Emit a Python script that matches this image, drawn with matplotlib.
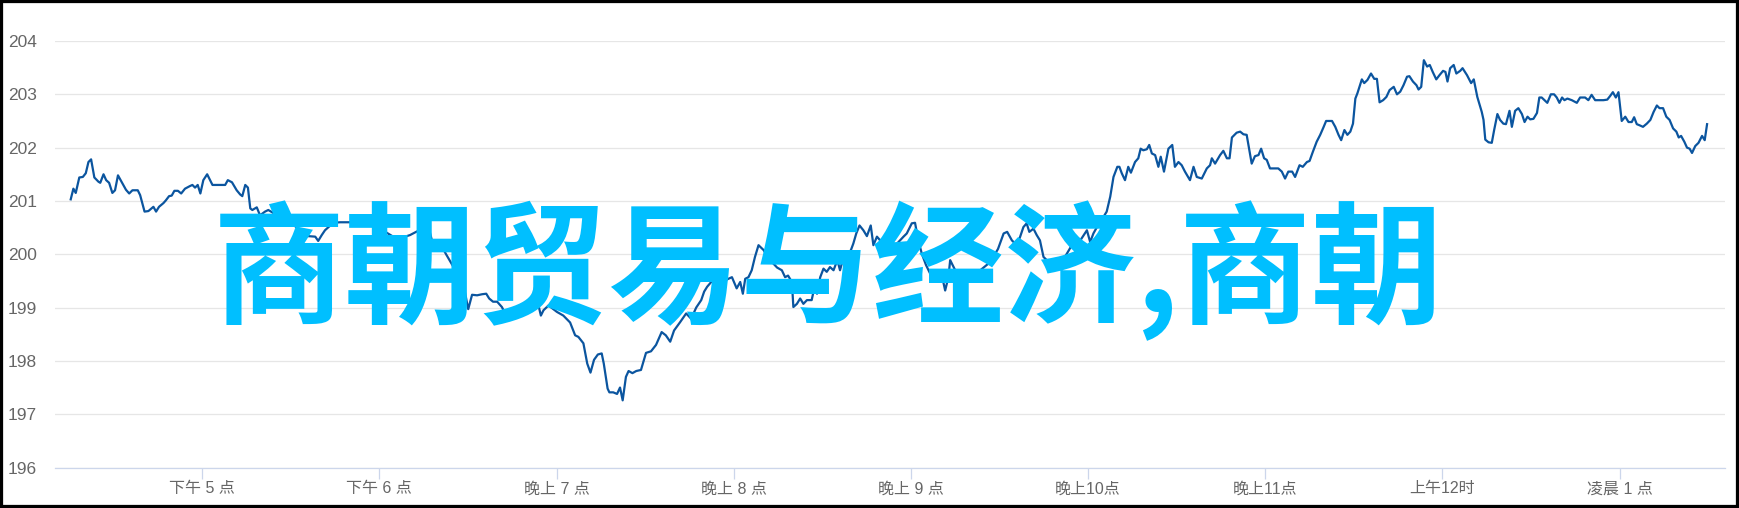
import matplotlib
matplotlib.use("Agg")
import matplotlib.pyplot as plt
from matplotlib.patches import Rectangle

# minutes after 16:00, price
minutes = [
    15.5, 16.4, 17.2, 18.4, 19.6, 20.6, 21.5, 22.4, 23.5, 24.9, 25.5, 26.6, 27.5, 28.5, 29.6,
    30.5, 31.5, 32.8, 34.2, 35.3, 36.4, 38.2, 39.0, 40.5, 41.8, 43.5, 44.4, 45.4, 46.9, 47.7,
    48.8, 49.7, 50.6, 51.8, 52.9, 54.2, 55.9, 56.7, 57.6, 58.5, 59.4, 60.4, 61.7, 63.5, 66.7,
    67.8, 68.7, 70.1, 71.7, 72.9, 73.6, 74.6, 75.5, 76.3, 77.0, 78.5, 79.6, 81.3, 82.4, 86.4,
    89.8, 93.2, 95.9, 98.3, 99.3, 100.5, 101.6, 104.4, 106.7, 110.1, 112.8, 115.2, 117.6, 120.3,
    122.6, 124.7, 126.4, 128.7, 130.4, 132.8, 134.8, 136.9, 137.8, 138.9, 139.9, 141.2, 142.6,
    144.7, 146.7, 148.4, 150.1, 151.4, 153.1, 154.8, 156.2, 157.2, 158.5, 159.9, 161.5, 162.6,
    164.3, 166.6, 168.8, 171.1, 172.4, 173.9, 174.7, 175.6, 177.3, 180.1, 182.3, 184.6, 186.3,
    187.4, 189.1, 190.4, 191.5, 192.7, 194.0, 195.3, 196.0, 197.3, 197.9, 199.2, 200.5, 201.5,
    202.4, 203.5, 204.4, 205.7, 207.0, 208.6, 210.3, 212.0, 213.7, 215.6, 217.0, 218.5, 219.8,
    221.9, 223.9, 225.6, 227.3, 229.0, 230.0, 231.0, 232.7, 234.7, 236.8, 238.2, 239.4, 241.0,
    242.2, 243.1, 243.9, 245.0, 246.1, 247.2, 248.4, 250.1, 251.2, 253.0, 254.7, 256.3, 257.4,
    258.4, 259.7, 260.2, 261.4, 262.5, 263.6, 264.8, 266.4, 267.6, 268.2, 269.3, 270.4, 271.5,
    272.6, 273.8, 275.1, 276.0, 277.2, 278.3, 279.7, 280.5, 281.5, 282.6, 283.9, 285.1, 286.4,
    287.3, 288.5, 289.6, 290.7, 292.3, 293.5, 295.3, 297.5, 298.6, 300.3, 301.4, 302.5, 303.7,
    305.1, 307.1, 309.3, 310.5, 311.6, 312.7, 313.3, 315.0, 316.1, 317.6, 320.1, 323.5, 326.8,
    329.5, 331.4, 332.6, 334.2, 335.9, 337.0, 338.1, 339.2, 340.1, 341.5, 342.6, 343.7, 344.9,
    346.0, 347.1, 348.3, 349.5, 351.1, 352.8, 354.5, 356.2, 357.6, 359.6, 360.7, 361.8, 363.0,
    364.1, 365.2, 366.3, 367.5, 368.6, 369.9, 370.6, 371.4, 372.5, 373.6, 374.5, 375.9, 377.0,
    377.8, 378.7, 379.9, 380.7, 381.6, 382.7, 383.8, 384.6, 385.7, 387.2, 388.5, 389.4, 390.6,
    391.7, 392.8, 394.5, 395.7, 396.8, 398.5, 400.2, 401.3, 401.9, 403.0, 404.7, 405.8, 407.0,
    407.9, 408.7, 410.3, 411.5, 412.6, 413.7, 415.4, 416.5, 417.7, 418.6, 419.6, 420.5, 421.6,
    423.3, 424.4, 425.6, 426.7, 427.8, 429.1, 430.1, 431.6, 432.7, 434.1, 435.0, 436.1, 437.4,
    438.6, 439.7, 440.6, 442.6, 443.7, 444.8, 445.7, 446.8, 447.8, 448.8, 449.7, 450.5, 451.2,
    452.7, 453.5, 454.6, 455.8, 456.9, 457.8, 458.7, 459.9, 461.0, 462.1, 463.5, 464.6, 465.7,
    466.8, 468.0, 468.8, 470.0, 471.2, 471.9, 472.8, 473.7, 474.8, 475.7, 476.7, 477.9, 479.0,
    480.2, 481.0, 481.7, 482.6, 483.8, 484.7, 486.0, 486.8, 488.3, 489.7, 490.6, 491.8, 493.3,
    493.9, 494.5, 495.6, 496.7, 497.5, 498.6, 499.5, 500.6, 501.5, 502.7, 503.5, 504.6, 505.7,
    506.9, 507.8, 508.8, 509.7, 510.8, 512.0, 512.8, 513.6, 515.5, 516.7, 517.8, 518.7, 519.6,
    520.5, 521.3, 522.3, 523.8, 525.5, 526.6, 528.3, 529.4, 530.5, 531.7, 534.5, 535.8, 536.8,
    537.7, 538.7, 539.6, 540.7, 541.9, 543.0, 544.1, 544.9, 545.8, 546.7, 547.9, 549.2, 550.4,
    551.5, 552.6, 553.5, 554.7, 555.8, 556.9, 558.1, 559.2, 560.0, 560.8, 561.9, 562.8, 563.7,
    564.5, 565.6, 566.7, 567.9, 568.8, 569.6,
]
prices = [
    201.03, 201.23, 201.15, 201.44, 201.45, 201.52, 201.73, 201.78, 201.44, 201.36, 201.34, 201.50, 201.39, 201.34, 201.15,
    201.20, 201.48, 201.35, 201.21, 201.14, 201.20, 201.20, 201.11, 200.80, 200.81, 200.89, 200.80, 200.89, 200.96, 201.01,
    201.09, 201.10, 201.19, 201.19, 201.14, 201.23, 201.28, 201.30, 201.25, 201.30, 201.14, 201.39, 201.50, 201.30, 201.30,
    201.30, 201.39, 201.35, 201.20, 201.12, 201.09, 201.30, 201.25, 200.86, 200.83, 200.88, 200.73, 200.80, 200.83, 200.70,
    200.60, 200.45, 200.34, 200.33, 200.25, 200.36, 200.45, 200.59, 200.60, 200.60, 200.61, 200.65, 200.58, 200.48,
    200.40, 200.33, 200.26, 200.33, 200.36, 200.43, 200.45, 200.46, 200.26, 200.20, 200.23, 200.14, 200.00,
    199.80, 199.62, 199.46, 198.97, 199.24, 199.23, 199.25, 199.26, 199.17, 199.11, 199.11, 199.01, 198.89,
    198.92, 198.95, 198.98, 199.07, 199.14, 199.04, 198.85, 198.95, 199.04, 198.92, 198.85, 198.72, 198.48,
    198.45, 198.33, 197.95, 197.78, 198.02, 198.12, 198.14, 197.95, 197.48, 197.41, 197.41, 197.38, 197.50,
    197.26, 197.70, 197.81, 197.77, 197.81, 197.83, 198.15, 198.18, 198.30, 198.54, 198.48, 198.36, 198.57,
    198.73, 198.89, 198.79, 199.00, 199.14, 199.30, 199.39, 199.50, 199.60, 199.50, 199.54, 199.57, 199.36,
    199.48, 199.26, 199.54, 199.57, 199.70, 199.95, 200.17, 200.08, 199.98, 199.85, 199.75, 199.70, 199.57,
    199.60, 199.48, 199.01, 199.07, 199.17, 199.07, 199.14, 199.14, 199.45, 199.26, 199.57, 199.73, 199.67,
    199.76, 199.70, 199.89, 199.70, 199.95, 199.98, 200.08, 200.20, 200.39, 200.54, 200.45, 200.34, 200.54,
    200.17, 200.33, 200.26, 200.29, 200.22, 200.14, 200.20, 200.33, 200.39, 200.58, 200.59, 200.26, 200.01,
    199.80, 199.57, 199.64, 199.60, 199.32, 199.57, 199.89, 199.70, 199.67, 199.64, 199.60, 199.70, 199.85,
    200.10, 200.39, 200.42, 200.26, 200.17, 200.33, 200.51, 200.58, 200.42, 200.48, 200.36, 200.26, 199.95,
    199.89, 199.86, 199.82, 199.80, 199.86, 200.01, 200.17, 200.26, 200.28, 200.45, 200.23, 200.39, 200.51,
    200.58, 200.70, 200.80, 201.08, 201.45, 201.64, 201.64, 201.52, 201.39, 201.64, 201.53, 201.73, 201.80,
    201.98, 201.95, 201.97, 202.05, 201.89, 201.86, 201.64, 201.83, 201.55, 201.98, 202.05, 201.64, 201.73,
    201.67, 201.55, 201.39, 201.64, 201.45, 201.42, 201.61, 201.67, 201.80, 201.70, 201.86, 201.94, 201.80,
    201.80, 202.19, 202.28, 202.30, 202.25, 202.24, 201.70, 201.84, 201.86, 201.98, 201.80, 201.77, 201.61,
    201.61, 201.61, 201.55, 201.42, 201.55, 201.55, 201.45, 201.67, 201.64, 201.73, 201.75, 201.92, 202.11,
    202.24, 202.38, 202.50, 202.50, 202.39, 202.24, 202.14, 202.33, 202.24, 202.30, 202.45, 202.92, 203.02,
    203.28, 203.21, 203.27, 203.39, 203.29, 203.29, 202.85, 202.89, 202.95, 203.08, 203.14, 203.00, 203.05,
    203.17, 203.33, 203.34, 203.24, 203.17, 203.09, 203.14, 203.64, 203.52, 203.55, 203.42, 203.28, 203.36,
    203.44, 203.42, 203.24, 203.49, 203.55, 203.39, 203.44, 203.49, 203.36, 203.21, 203.28, 202.95, 202.67,
    202.52, 202.15, 202.10, 202.09, 202.33, 202.63, 202.52, 202.45, 202.44, 202.69, 202.39, 202.69, 202.74,
    202.63, 202.48, 202.58, 202.53, 202.54, 202.65, 202.94, 202.94, 202.84, 203.00, 203.00, 202.94, 202.84,
    202.94, 202.89, 202.92, 202.89, 202.84, 202.94, 202.94, 202.89, 202.99, 202.89, 202.89, 202.90, 202.97,
    203.04, 202.94, 203.04, 202.50, 202.58, 202.48, 202.48, 202.57, 202.44, 202.42, 202.39, 202.45, 202.52,
    202.67, 202.79, 202.74, 202.74, 202.58, 202.52, 202.36, 202.30, 202.19, 202.22, 202.11, 202.00, 201.98,
    201.90, 202.03, 202.09, 202.22, 202.14, 202.44,
]

tick_minutes = [60, 120, 180, 240, 300, 360, 420, 480, 540]
tick_labels = ["下午 5 点", "下午 6 点", "晚上 7 点", "晚上 8 点", "晚上 9 点",
               "晚上10点", "晚上11点", "上午12时", "凌晨 1 点"]
y_ticks = [196, 197, 198, 199, 200, 201, 202, 203, 204]
overlay_text = "商朝贸易与经济,商朝"

fig = plt.figure(figsize=(17.39, 5.08), dpi=100)
ax = fig.add_axes([0.0315, 0.0797, 0.9605, 0.8396])

ax.plot(minutes, prices, color='#0b559f', linewidth=1.6, zorder=3)

ax.set_xlim(10.1, 575.7)
ax.set_ylim(196, 204)
ax.set_yticks(y_ticks)
ax.set_yticklabels([str(v) for v in y_ticks], family=['Liberation Sans'], fontsize=12.5, color='#666666')
ax.set_xticks(tick_minutes)
ax.set_xticklabels(tick_labels, family=['Liberation Sans', 'Noto Sans CJK SC'], fontsize=11.5, color='#666666')

ax.grid(axis='y', color='#e6e6e6', linewidth=0.9)
ax.set_axisbelow(True)
for s in ['top', 'right', 'left']:
    ax.spines[s].set_visible(False)
ax.spines['bottom'].set_color('#ccd6eb')
ax.spines['bottom'].set_linewidth(0.9)
ax.tick_params(axis='y', length=0, pad=13)
ax.tick_params(axis='x', length=8, color='#ccd6eb', width=0.9, pad=2)

fig.text(0.1225, 0.466, overlay_text, fontsize=95, fontweight='bold', color='#00bfff',
         family=['Noto Sans CJK SC'], ha='left', va='center', zorder=10)

fig.patches.append(Rectangle((0, 0), 1, 1, transform=fig.transFigure, fill=False,
                             edgecolor='black', linewidth=4.5, zorder=20))

fig.savefig('out.png', dpi=100)
